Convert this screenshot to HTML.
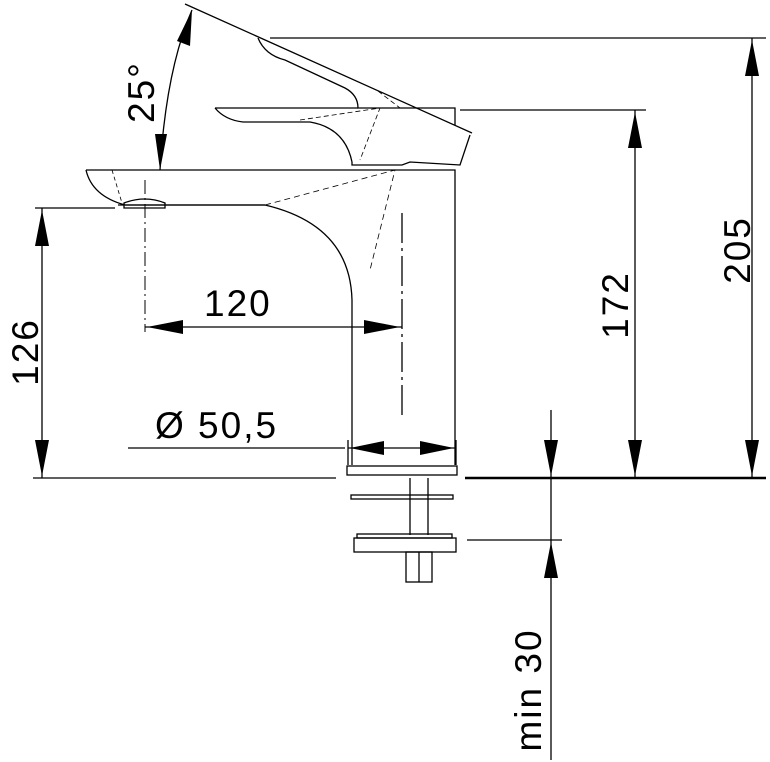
<!DOCTYPE html>
<html><head><style>html,body{margin:0;padding:0;background:#fff}svg{display:block}</style></head>
<body>
<svg width="770" height="762" viewBox="0 0 770 762" xmlns="http://www.w3.org/2000/svg" font-family="Liberation Sans, sans-serif">
<g stroke="#000" stroke-width="1.3" fill="none">
<line x1="270" y1="38" x2="766" y2="38"/>
<line x1="460" y1="110" x2="646" y2="110"/>
<line x1="35" y1="208" x2="115" y2="208"/>
<line x1="33" y1="478" x2="336" y2="478"/>
<line x1="465" y1="478" x2="766" y2="478" stroke-width="2.5"/>
<line x1="467" y1="540" x2="562" y2="540"/>
<line x1="128" y1="448" x2="345" y2="448"/>
<line x1="348" y1="440" x2="348" y2="465"/>
<line x1="456" y1="440" x2="456" y2="465"/>
<line x1="752" y1="38" x2="752" y2="478"/>
<path d="M752,40 l-7,36 h14z M752,476 l-7,-36 h14z" fill="#000" stroke="none"/>
<line x1="635" y1="110" x2="635" y2="478"/>
<path d="M635,112 l-7,36 h14z M635,476 l-7,-36 h14z" fill="#000" stroke="none"/>
<line x1="42" y1="208" x2="42" y2="478"/>
<path d="M42,210 l-7,36 h14z M42,476 l-7,-36 h14z" fill="#000" stroke="none"/>
<line x1="145" y1="327" x2="402" y2="327"/>
<path d="M147,327 l36,-7 v14z M400,327 l-36,-7 v14z" fill="#000" stroke="none"/>
<line x1="348" y1="448" x2="456" y2="448"/>
<path d="M350,448 l34,-7 v14z M454,448 l-34,-7 v14z" fill="#000" stroke="none"/>
<line x1="551" y1="410" x2="551" y2="760"/>
<path d="M551,476 l-7,-36 h14z M551,542 l-7,36 h14z" fill="#000" stroke="none"/>
<line x1="145" y1="180" x2="145" y2="332" stroke-dasharray="14,4,2,4" stroke-width="1"/>
<line x1="402" y1="213" x2="402" y2="420" stroke-dasharray="30,5,3,5" stroke-width="1.3"/>
<line x1="185" y1="4" x2="472" y2="133"/>
<path d="M160,170 Q166,70 192,10"/>
<path d="M192,10 l-2,36 l-13,-5z M160,170 l-5,-36 h12z" fill="#000" stroke="none"/>
<path d="M86,170 L455,170 L455,465"/>
<path d="M86,170 Q92,196 125,205 L265,205 Q350,225 352,300 L352,465"/>
<path d="M124,203 Q145,195 165,203 L165,208 L124,208z"/>
<path d="M118,205 L265,205" />
<path d="M265,205 L395,170 L370,270" stroke-dasharray="6,4" stroke-width="0.8"/>
<path d="M112,170 L122,203" stroke-dasharray="4,3" stroke-width="0.8"/>
<path d="M258,38 Q265,55 285,60 L345,88 Q358,95 358,108 L455,108 L455,125"/>
<path d="M215,108 L358,108"/>
<path d="M215,108 Q225,120 243,122 L310,122 Q345,128 352,162"/>
<path d="M352,162 L352,165 L402,165 L410,162 L460,165 L470,135"/>
<path d="M300,120 L380,108 L360,160 M378,91 L400,108" stroke-dasharray="5,3" stroke-width="0.8"/>
<rect x="347" y="466" width="110" height="9"/>
<line x1="410" y1="478" x2="410" y2="535"/>
<line x1="428" y1="478" x2="428" y2="535"/>
<rect x="351" y="495" width="102" height="4"/>
<rect x="357" y="534" width="95" height="4"/>
<rect x="354" y="538" width="102" height="14"/>
<rect x="406" y="552" width="26" height="30"/>
<line x1="419" y1="552" x2="419" y2="582"/>
</g>
<g font-size="37" fill="#000" letter-spacing="2">
<text x="204" y="316">120</text>
<text x="155" y="438">Ø 50,5</text>
<text transform="translate(38,352) rotate(-90)" text-anchor="middle">126</text>
<text transform="translate(628,305) rotate(-90)" text-anchor="middle">172</text>
<text transform="translate(750,250) rotate(-90)" text-anchor="middle">205</text>
<text transform="translate(541,690) rotate(-90)" text-anchor="middle">min 30</text>
<text transform="translate(154,92) rotate(-90)" text-anchor="middle">25°</text>
</g>
</svg>
</body></html>
